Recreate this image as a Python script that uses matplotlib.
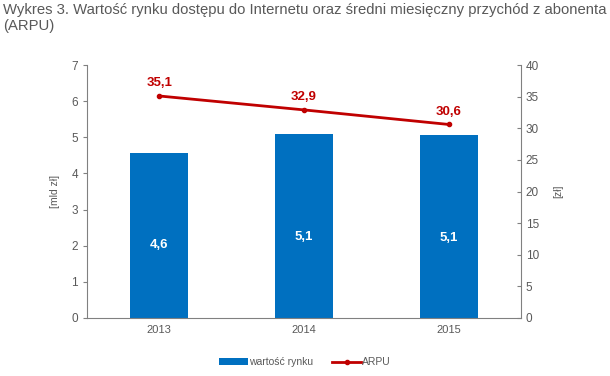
import matplotlib
matplotlib.use("Agg")
import matplotlib.pyplot as plt
import numpy as np

years = ["2013", "2014", "2015"]
market_value = [4.57, 5.08, 5.06]
arpu = [35.1, 32.9, 30.6]

BLUE = "#0070C0"
RED = "#C00000"
GRAY = "#808080"
TXT = "#595959"

plt.rcParams['font.family'] = ['Liberation Sans', 'DejaVu Sans']

fig = plt.figure(figsize=(6.10, 3.76), dpi=100)
ax = fig.add_axes([87/610, 1-318/376, (521-87)/610, (318-65)/376])
x = np.arange(len(years))
ax.bar(x, market_value, width=0.4, color=BLUE, label="wartość rynku", zorder=2)
ax.set_xlim(-0.5, 2.5)
ax.set_ylim(0, 7)
ax.set_yticks(range(0, 8))
ax.set_xticks(x)
ax.set_xticklabels(years)
for s in ["top", "right"]:
    ax.spines[s].set_visible(False)
for s in ["left", "bottom"]:
    ax.spines[s].set_color(GRAY)
ax.tick_params(axis='y', colors=GRAY, labelcolor=TXT, labelsize=8.5, length=3, direction='out')
ax.tick_params(axis='x', length=0, labelcolor=TXT, labelsize=8, pad=5)
ax.set_ylabel("[mld zł]", color=TXT, fontsize=7.5, labelpad=8)

for xi, v in zip(x, market_value):
    ax.text(xi, v*0.44, f"{v:.1f}".replace(".", ","), ha="center", va="center",
            color="white", fontsize=9.5, fontweight="bold")

ax2 = ax.twinx()
ax2.plot(x, arpu, color=RED, lw=2, marker="o", markersize=3, label="ARPU", zorder=3)
ax2.set_ylim(0, 40)
ax2.set_yticks(range(0, 45, 5))
for s in ["top", "left", "bottom"]:
    ax2.spines[s].set_visible(False)
ax2.spines["right"].set_color(GRAY)
ax2.tick_params(axis='y', colors=GRAY, labelcolor=TXT, labelsize=8.5, length=3, direction='in')
ax2.set_ylabel("[zł]", color=TXT, fontsize=7.5, labelpad=10)
for xi, v in zip(x, arpu):
    ax2.annotate(f"{v:.1f}".replace(".", ","), (xi, v), xytext=(0, 5), textcoords="offset points",
                 ha="center", va="bottom", color=RED, fontsize=9.5, fontweight="bold")

h1, l1 = ax.get_legend_handles_labels()
h2, l2 = ax2.get_legend_handles_labels()
fig.legend(h1 + h2, l1 + l2, loc="center", bbox_to_anchor=(0.5, 1-362/376), ncol=2,
           frameon=False, fontsize=7.5, labelcolor=TXT, handlelength=2.8, handleheight=0.6,
           handletextpad=0.1, columnspacing=1.8)

fig.text(3/610, 1-3/376, "Wykres 3. Wartość rynku dostępu do Internetu oraz średni miesięczny przychód z abonenta\n(ARPU)",
         ha="left", va="top", color=TXT, fontsize=10.7, linespacing=1.2)

fig.savefig("out.png", dpi=100)
